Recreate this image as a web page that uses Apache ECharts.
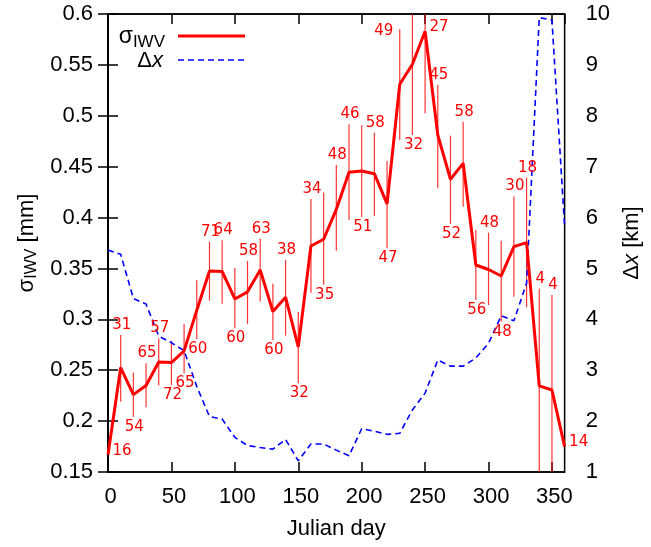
<!DOCTYPE html>
<html>
<head>
<meta charset="utf-8">
<script src="https://cdn.jsdelivr.net/npm/echarts@6/dist/echarts.min.js"></script>
<style>
html,body{margin:0;padding:0;background:#fff;}
#chart{width:651px;height:547px;}
</style>
</head>
<body>
<div id="chart"></div>
<script>
// ---- data ----
const days = [0,10,20,30,40,50,60,70,80,90,100,110,120,130,140,150,160,170,180,190,200,210,220,230,240,250,260,270,280,290,300,310,320,330,340,350,360];
const sigma = [0.167,0.2526,0.226,0.235,0.258,0.2575,0.269,0.309,0.3475,0.347,0.320,0.327,0.3485,0.3076,0.3217,0.273,0.372,0.3787,0.408,0.4445,0.4458,0.4431,0.4134,0.531,0.5506,0.583,0.4811,0.4376,0.4533,0.3534,0.349,0.3426,0.3714,0.3754,0.2346,0.2306,0.175];
const sigmaLow = [null,0.219,0.2044,0.2137,0.2349,0.2353,0.247,0.2804,0.3184,0.3154,0.2913,0.2955,0.3175,0.2795,0.284,0.2372,0.326,0.334,0.3675,0.3976,0.4006,0.4016,0.3698,0.4762,0.4811,0.5024,0.4288,0.3937,0.4107,0.319,0.3141,0.2977,0.3223,0.3119,0.139,0.137,null];
const sigmaHigh = [null,0.2847,0.2477,0.2569,0.2814,0.279,0.2955,0.3384,0.3763,0.3777,0.3505,0.3574,0.3793,0.335,0.3583,0.3073,0.4183,0.4245,0.4517,0.4916,0.4906,0.4834,0.4556,0.585,0.62,0.66,0.5303,0.4805,0.4942,0.3878,0.3852,0.3773,0.4206,0.4392,0.330,0.324,null];
const counts = [16,31,54,65,57,72,65,60,71,64,60,58,63,60,38,32,34,35,48,46,51,58,47,49,32,27,45,52,58,56,48,48,30,18,4,4,14];
const labelSide = ['right','top','bottom','top','top','bottom','bottom','bottom','top','top','bottom','top','top','bottom','top','bottom','top','bottom','top','top','bottom','top','bottom','topleft','bottom','right','top','bottom','top','bottom','top','bottom','top','top','top','top','right'];
const dx = [5.36,5.28,4.41,4.30,3.67,3.54,3.385,2.68,2.09,2.04,1.68,1.52,1.48,1.45,1.64,1.22,1.55,1.55,1.43,1.32,1.85,1.80,1.74,1.76,2.22,2.55,3.20,3.08,3.08,3.24,3.53,4.07,3.97,4.71,9.93,9.88,5.82];
const xTicks = {min:0, max:360, step:50};
const yLeftTicks = {min:0.15, max:0.6, step:0.05};
const yRightTicks = {min:1, max:10, step:1};

// ---- chart ----
const chart = echarts.init(document.getElementById('chart'), null, {renderer:'canvas'});
const tickFont = 'Liberation Sans';
const RED = '#ff0000', BLUE = '#0000ff';

const option = {
  animation: false,
  backgroundColor: '#fff',
  grid: {left:108, right:84, top:14, bottom:75, show:true, borderColor:'#000', borderWidth:1.5, backgroundColor:'transparent'},
  graphic: [
    {type:'text', z:100, style:{x:165, y:37, text:'{b|σ}{s|IWV}', align:'right', verticalAlign:'middle',
      rich:{b:{fontFamily:tickFont, fontSize:23, fill:'#000'}, s:{fontFamily:tickFont, fontSize:17, fill:'#000', padding:[10,0,0,0]}}}},
    {type:'line', z:100, shape:{x1:178, y1:36, x2:245, y2:36}, style:{stroke:RED, lineWidth:3}},
    {type:'text', z:100, style:{x:163, y:61, text:'{b|Δ}{i|x}', align:'right', verticalAlign:'middle',
      rich:{b:{fontFamily:tickFont, fontSize:22, fill:'#000'}, i:{fontFamily:tickFont, fontSize:22, fontStyle:'italic', fill:'#000'}}}},
    {type:'line', z:100, shape:{x1:178, y1:60, x2:245, y2:60}, style:{stroke:BLUE, lineWidth:1.6, lineDash:[6,4]}}
  ],
  xAxis: [{
    type:'value', min:xTicks.min, max:xTicks.max, interval:xTicks.step, position:'bottom',
    name:'Julian day', nameLocation:'middle', nameGap:46,
    nameTextStyle:{fontFamily:tickFont, fontSize:22, color:'#000'},
    axisLine:{show:true, lineStyle:{color:'#000', width:1.5}},
    axisTick:{show:true, inside:true, length:10, lineStyle:{color:'#000', width:1.5}},
    axisLabel:{fontFamily:tickFont, fontSize:22, color:'#000', margin:14, showMaxLabel:false, padding:[0,0,0,5],
      formatter: v => (v % 50 === 0 ? String(v) : '')},
    splitLine:{show:false}
  },{
    type:'value', min:xTicks.min, max:xTicks.max, interval:xTicks.step, position:'top',
    axisLine:{show:true, lineStyle:{color:'#000', width:1.5}},
    axisTick:{show:true, inside:true, length:10, lineStyle:{color:'#000', width:1.5}},
    axisLabel:{show:false}, splitLine:{show:false}
  }],
  yAxis: [{
    type:'value', min:yLeftTicks.min, max:yLeftTicks.max, interval:yLeftTicks.step, position:'left',
    name:'{b|σ}{s|IWV}{b| [mm]}', nameLocation:'middle', nameGap:66,
    nameTextStyle:{rich:{
      b:{fontFamily:tickFont, fontSize:22, color:'#000'},
      s:{fontFamily:tickFont, fontSize:16, color:'#000', padding:[9,0,0,0]}
    }},
    axisLine:{show:true, lineStyle:{color:'#000', width:1.5}},
    axisTick:{show:true, inside:true, length:10, lineStyle:{color:'#000', width:1.5}},
    axisLabel:{fontFamily:tickFont, fontSize:22, color:'#000', margin:15,
      formatter: v => String(+v.toFixed(2))},
    splitLine:{show:false}
  },{
    type:'value', min:yRightTicks.min, max:yRightTicks.max, interval:yRightTicks.step, position:'right',
    name:'{b|Δ}{i|x}{b| [km]}', nameLocation:'middle', nameGap:48, nameRotate:90,
    nameTextStyle:{rich:{
      b:{fontFamily:tickFont, fontSize:22, color:'#000'},
      i:{fontFamily:tickFont, fontSize:22, fontStyle:'italic', color:'#000'}
    }},
    axisLine:{show:true, lineStyle:{color:'#000', width:1.5}},
    axisTick:{show:true, inside:true, length:10, lineStyle:{color:'#000', width:1.5}},
    axisLabel:{fontFamily:tickFont, fontSize:22, color:'#000', margin:21},
    splitLine:{show:false}
  }],
  series: [
    {
      name:'errbars', type:'custom', xAxisIndex:0, yAxisIndex:0, clip:true, z:2,
      data: days.map((d,i)=>[d, sigma[i]]),
      renderItem: function(params, api){
        const i = params.dataIndex;
        if (sigmaLow[i] == null) return null;
        const a = api.coord([days[i], sigmaLow[i]]);
        const b = api.coord([days[i], sigmaHigh[i]]);
        return {type:'line', shape:{x1:a[0], y1:a[1], x2:b[0], y2:b[1]},
          style:{stroke:'rgba(255,0,0,0.8)', lineWidth:1.2}};
      }
    },
    {
      name:'dx', type:'line', xAxisIndex:0, yAxisIndex:1, z:3,
      data: days.map((d,i)=>[d, dx[i]]),
      symbol:'none', showSymbol:false,
      lineStyle:{color:BLUE, width:1.6, type:[6,4]},
      itemStyle:{color:BLUE}
    },
    {
      name:'sigma', type:'line', xAxisIndex:0, yAxisIndex:0, z:4,
      data: days.map((d,i)=>[d, sigma[i]]),
      symbol:'none', showSymbol:false,
      lineStyle:{color:RED, width:3},
      itemStyle:{color:RED}
    },
    {
      name:'labels', type:'custom', xAxisIndex:0, yAxisIndex:0, clip:false, z:5,
      data: days.map((d,i)=>[d, sigma[i]]),
      renderItem: function(params, api){
        const i = params.dataIndex;
        const side = labelSide[i];
        const top = Math.min(sigmaHigh[i] == null ? sigma[i] : sigmaHigh[i], yLeftTicks.max);
        const bot = Math.max(sigmaLow[i] == null ? sigma[i] : sigmaLow[i], yLeftTicks.min);
        let px, py;
        if (side === 'top') { const c = api.coord([days[i], top]); px = c[0] + 1; py = c[1] - 10; }
        else if (side === 'bottom') { const c = api.coord([days[i], bot]); px = c[0] + 1; py = c[1] + 10; }
        else if (side === 'topleft') { const c = api.coord([days[i], top]); px = c[0] - 16; py = c[1] + 2; }
        else { const c = api.coord([days[i], sigma[i]]); px = c[0] + 14; py = c[1] - 4; }
        return {type:'text', style:{x:px, y:py, text:String(counts[i]), fill:RED,
          font:'15px "DejaVu Sans"', align:'center', verticalAlign:'middle'}};
      }
    }
  ]
};
chart.setOption(option);
</script>
</body>
</html>
